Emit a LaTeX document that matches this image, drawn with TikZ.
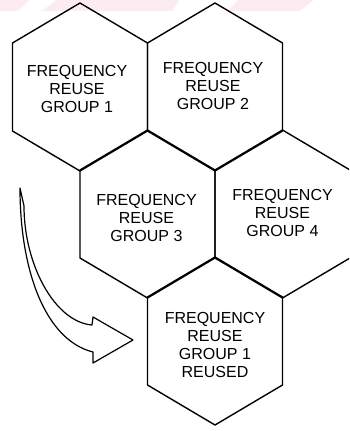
\documentclass[tikz,border=0pt]{standalone}
\usepackage{fontspec}
\setmainfont{Liberation Sans}

\definecolor{bandpink}{RGB}{253,236,239}

\begin{document}
\begin{tikzpicture}
[
x=1pt, y=-1pt,
cell/.style={draw, line width=1.4pt, line join=round},
every node/.style={align=center, inner sep=0pt, font=\fontsize{16}{18}\selectfont}
]

\useasboundingbox (0,0) rectangle (349,431);
% faint banner strip along the top
\fill[bandpink] (0,0) rectangle (349,11);
\fill[white] (18,11) -- (30,0) -- (56,0) -- (42,11) -- cycle;
\fill[white] (172,11) -- (180,0) -- (238,0) -- (228,11) -- cycle;
\fill[white] (300,11) -- (314,0) -- (349,0) -- (349,11) -- cycle;
\clip (0,0) rectangle (349,431);

% hexagonal cells, half width 67.5, side corners at +-44, tips at +-84
\foreach \n/\cx/\cy in {g1/80/87, g2/215/87, g3/147.5/214, g4/282.5/214, g5/215/341}{
	\draw[cell] (\cx,\cy-84) -- (\cx+67.5,\cy-44) -- (\cx+67.5,\cy+44) -- (\cx,\cy+84) 
		-- (\cx-67.5,\cy+44) -- (\cx-67.5,\cy-44) -- cycle;
	\coordinate (\n) at (\cx,\cy);
}

\node (t1) at ([xshift=-3pt,yshift=-2pt]g1) {FREQUENCY\\REUSE\\GROUP 1};
\node (t2) at ([xshift=-2pt,yshift=1pt]g2) {FREQUENCY\\REUSE\\GROUP 2};
\node (t3) at ([xshift=-1pt,yshift=-4pt]g3) {FREQUENCY\\REUSE\\GROUP 3};
\node (t4) at ([yshift=1pt]g4) {FREQUENCY\\REUSE\\GROUP 4};
\node (t5) at ([yshift=-4pt]g5) {FREQUENCY\\REUSE\\GROUP 1\\REUSED};

% hollow bent arrow pointing at the reused cell
\coordinate (tail) at (20,188);
\coordinate (tip) at (133,340);
\draw[line width=1.2pt, line join=round] (tail) .. controls (20,270) and (45,340) .. (93,352) 
	-- (93,363) -- (tip) -- (93,317) -- (92,325) 
	.. controls (55,322) and (24,265) .. (24,206) -- cycle;
\end{tikzpicture}
\end{document}
